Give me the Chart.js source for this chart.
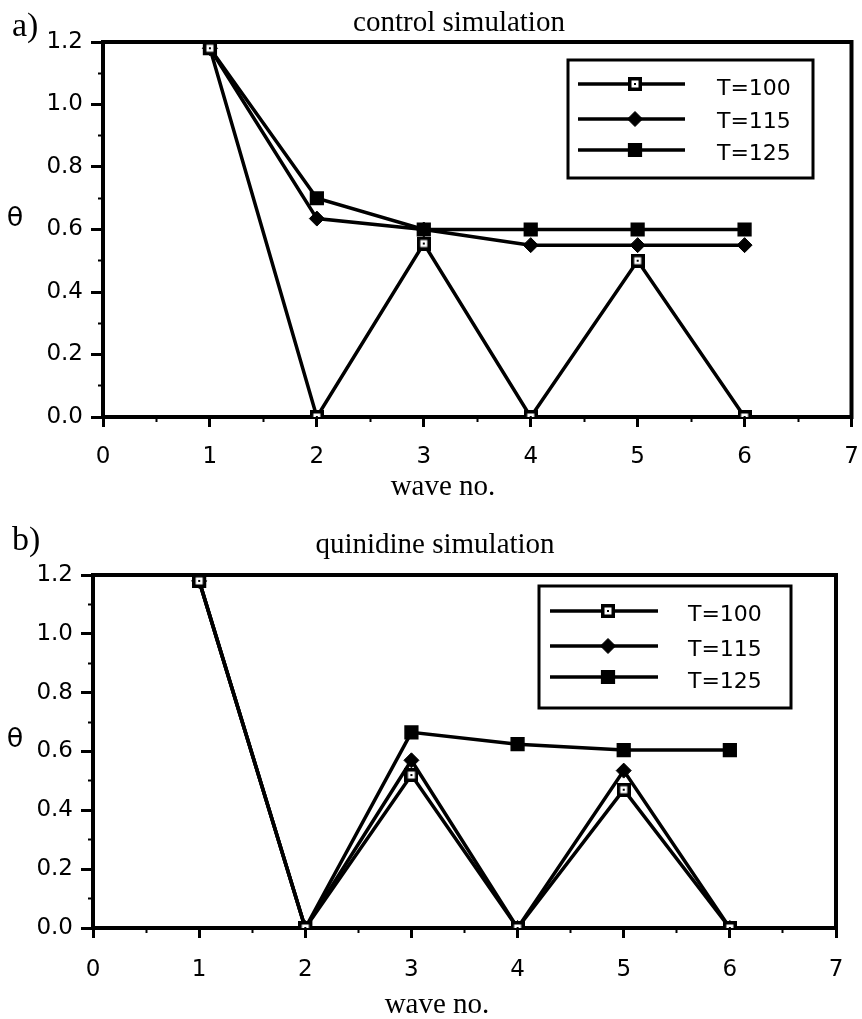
<!DOCTYPE html>
<html>
<head>
<meta charset="utf-8">
<script src="https://cdn.jsdelivr.net/npm/chart.js@4.4.1/dist/chart.umd.min.js"></script>
<style>
  body { margin: 0; background: #fff; width: 862px; height: 1019px; overflow: hidden; }
  canvas { position: absolute; left: 0; }
  #chartA { top: 0; }
  #chartB { top: 505px; }
</style>
</head>
<body>
<canvas id="chartA" width="862" height="505"></canvas>
<canvas id="chartB" width="862" height="514"></canvas>
<script>
// wave numbers and theta values
const waves = [1, 2, 3, 4, 5, 6]
const seriesLabels = ['T=100', 'T=115', 'T=125']

const controlT100 = [1.18, 0.0, 0.555, 0.0, 0.50, 0.0]
const controlT115 = [1.18, 0.635, 0.60, 0.55, 0.55, 0.55]
const controlT125 = [1.18, 0.70, 0.60, 0.60, 0.60, 0.60]

const quinidineT100 = [1.18, 0.0, 0.52, 0.0, 0.47, 0.0]
const quinidineT115 = [1.18, 0.0, 0.57, 0.0, 0.535, 0.0]
const quinidineT125 = [1.18, 0.0, 0.665, 0.625, 0.605, 0.605]

const xMajorTicks = [0, 1, 2, 3, 4, 5, 6, 7]
const xMinorTicks = [0, 0.5, 1, 1.5, 2, 2.5, 3, 3.5, 4, 4.5, 5, 5.5, 6, 6.5, 7]
const yMajorTicks = [0, 0.2, 0.4, 0.6, 0.8, 1.0, 1.2]
const yMinorTicks = [0, 0.1, 0.2, 0.3, 0.4, 0.5, 0.6, 0.7, 0.8, 0.9, 1.0, 1.1, 1.2]

// open square with a dot in the middle (T=100 marker)
function openSquare() {
  const c = document.createElement('canvas')
  c.width = 14; c.height = 14
  const g = c.getContext('2d')
  g.fillStyle = '#000'; g.fillRect(0, 0, 14, 14)
  g.fillStyle = '#fff'; g.fillRect(3.5, 3.5, 7, 7)
  g.fillStyle = '#000'; g.fillRect(6, 6, 2, 2)
  return c
}
const openSq = openSquare()

const markerStyles = [
  {pointStyle: openSq, pointRadius: 7, pointBorderWidth: 0, pointBackgroundColor: '#fff', pointBorderColor: '#000'},
  {pointStyle: 'rectRot', pointRadius: 7.5, pointBorderWidth: 1, pointBackgroundColor: '#000', pointBorderColor: '#000'},
  {pointStyle: 'rect', pointRadius: 9, pointBorderWidth: 1.5, pointBackgroundColor: '#000', pointBorderColor: '#000'}
]

const SANS = "'DejaVu Sans', sans-serif"
const SERIF = "'Liberation Serif', 'Times New Roman', serif"

// plot frame: top and right edges
const framePlugin = {
  id: 'frame',
  beforeDatasetsDraw(chart, args, opts) {
    const {ctx, chartArea: a} = chart
    ctx.save()
    ctx.strokeStyle = '#000'
    ctx.lineWidth = opts.width
    ctx.beginPath()
    ctx.moveTo(a.left, a.top)
    ctx.lineTo(a.right, a.top)
    ctx.lineTo(a.right, a.bottom + 2)
    ctx.stroke()
    ctx.restore()
  }
}

// boxed legend: line sample with the marker in the middle
const boxLegend = {
  id: 'boxLegend',
  afterDatasetsDraw(chart, args, opts) {
    const ctx = chart.ctx
    ctx.save()
    ctx.fillStyle = '#fff'
    ctx.fillRect(opts.left, opts.top, opts.width, opts.height)
    ctx.strokeStyle = '#000'
    ctx.lineWidth = 3
    ctx.strokeRect(opts.left, opts.top, opts.width, opts.height)
    chart.data.datasets.forEach((ds, i) => {
      const y = opts.rows[i]
      ctx.strokeStyle = '#000'
      ctx.lineWidth = ds.borderWidth
      ctx.beginPath()
      ctx.moveTo(opts.lineX0, y)
      ctx.lineTo(opts.lineX1, y)
      ctx.stroke()
      ctx.fillStyle = ds.pointBackgroundColor
      ctx.strokeStyle = ds.pointBorderColor
      ctx.lineWidth = ds.pointBorderWidth
      Chart.helpers.drawPoint(ctx, {
        pointStyle: ds.pointStyle, radius: ds.pointRadius,
        borderWidth: ds.pointBorderWidth, rotation: 0
      }, opts.markerX, y)
      ctx.fillStyle = '#000'
      ctx.font = '22px ' + SANS
      ctx.textBaseline = 'middle'
      ctx.textAlign = 'left'
      ctx.fillText(ds.label, opts.textX, opts.textRows[i])
    })
    ctx.restore()
  }
}

// free text: panel letter, title, theta, x label
const textPlugin = {
  id: 'labels',
  afterDraw(chart, args, opts) {
    const ctx = chart.ctx
    ctx.save()
    ctx.fillStyle = '#000'
    ctx.textBaseline = 'alphabetic'
    opts.items.forEach(t => {
      ctx.font = t.font
      ctx.textAlign = t.align
      ctx.fillText(t.text, t.x, t.y)
    })
    ctx.restore()
  }
}

function makePanel(id, values, geo) {
  const datasets = values.map((v, i) => Object.assign({
    label: seriesLabels[i],
    data: waves.map((w, j) => ({x: w, y: v[j]})),
    borderColor: '#000',
    borderWidth: 3.5,
    tension: 0,
    fill: false
  }, markerStyles[i]))

  const tickFont = {family: SANS, size: 23}
  return new Chart(document.getElementById(id), {
    type: 'line',
    data: {datasets},
    plugins: [framePlugin, boxLegend, textPlugin],
    options: {
      responsive: false,
      animation: false,
      events: [],
      layout: {padding: {top: geo.top, right: geo.right, left: 0, bottom: 0}},
      plugins: {
        legend: {display: false},
        tooltip: {enabled: false},
        title: {display: false},
        frame: {width: 4},
        boxLegend: geo.legend,
        labels: {items: geo.texts}
      },
      scales: {
        x: {
          type: 'linear', position: 'bottom', weight: 1,
          min: 0, max: 7,
          afterBuildTicks: s => { s.ticks = xMajorTicks.map(v => ({value: v})) },
          afterFit: s => { s.height = geo.xHeight; s.paddingLeft = 0; s.paddingRight = 0 },
          ticks: {color: '#000', font: tickFont, padding: geo.xPad, maxRotation: 0, callback: v => String(v)},
          grid: {drawOnChartArea: false, color: '#000', tickLength: 10, tickWidth: 3},
          border: {color: '#000', width: 4}
        },
        xMinor: {
          type: 'linear', position: 'bottom', weight: 0,
          min: 0, max: 7,
          afterBuildTicks: s => { s.ticks = xMinorTicks.map(v => ({value: v})) },
          afterFit: s => { s.height = 0; s.paddingLeft = 0; s.paddingRight = 0 },
          ticks: {display: false},
          grid: {drawOnChartArea: false, color: '#000', tickLength: 5, tickWidth: 2},
          border: {display: false}
        },
        y: {
          type: 'linear', position: 'left', weight: 1,
          min: 0, max: 1.2,
          afterBuildTicks: s => { s.ticks = yMajorTicks.map(v => ({value: v})) },
          afterFit: s => { s.width = geo.left },
          ticks: {color: '#000', font: tickFont, padding: 8, callback: v => v.toFixed(1)},
          grid: {drawOnChartArea: false, color: '#000', tickLength: 12, tickWidth: 3},
          border: {color: '#000', width: 4}
        },
        yMinor: {
          type: 'linear', position: 'left', weight: 0,
          min: 0, max: 1.2,
          afterBuildTicks: s => { s.ticks = yMinorTicks.map(v => ({value: v})) },
          afterFit: s => { s.width = 0 },
          ticks: {display: false},
          grid: {drawOnChartArea: false, color: '#000', tickLength: 5, tickWidth: 2},
          border: {display: false}
        }
      }
    }
  })
}

makePanel('chartA', [controlT100, controlT115, controlT125], {
  top: 42, right: 8, left: 103, xHeight: 88, xPad: 16,
  legend: {left: 568, top: 60, width: 245, height: 118, lineX0: 578, lineX1: 685, markerX: 635,
           rows: [84, 119, 150], textX: 717, textRows: [89, 122, 154]},
  texts: [
    {text: 'a)', x: 12, y: 36, font: '34px ' + SERIF, align: 'left'},
    {text: 'control simulation', x: 459, y: 31, font: '29px ' + SERIF, align: 'center'},
    {text: 'θ', x: 15, y: 226, font: '27px ' + SANS, align: 'center'},
    {text: 'wave no.', x: 443, y: 495, font: '29px ' + SERIF, align: 'center'}
  ]
})

makePanel('chartB', [quinidineT100, quinidineT115, quinidineT125], {
  top: 70, right: 26, left: 93, xHeight: 91, xPad: 18,
  legend: {left: 539, top: 81, width: 252, height: 122, lineX0: 550, lineX1: 658, markerX: 608,
           rows: [106, 141, 172], textX: 688, textRows: [110, 145, 177]},
  texts: [
    {text: 'b)', x: 12, y: 45, font: '34px ' + SERIF, align: 'left'},
    {text: 'quinidine simulation', x: 435, y: 48, font: '29px ' + SERIF, align: 'center'},
    {text: 'θ', x: 15, y: 242, font: '27px ' + SANS, align: 'center'},
    {text: 'wave no.', x: 437, y: 508, font: '29px ' + SERIF, align: 'center'}
  ]
})
</script>
</body>
</html>
